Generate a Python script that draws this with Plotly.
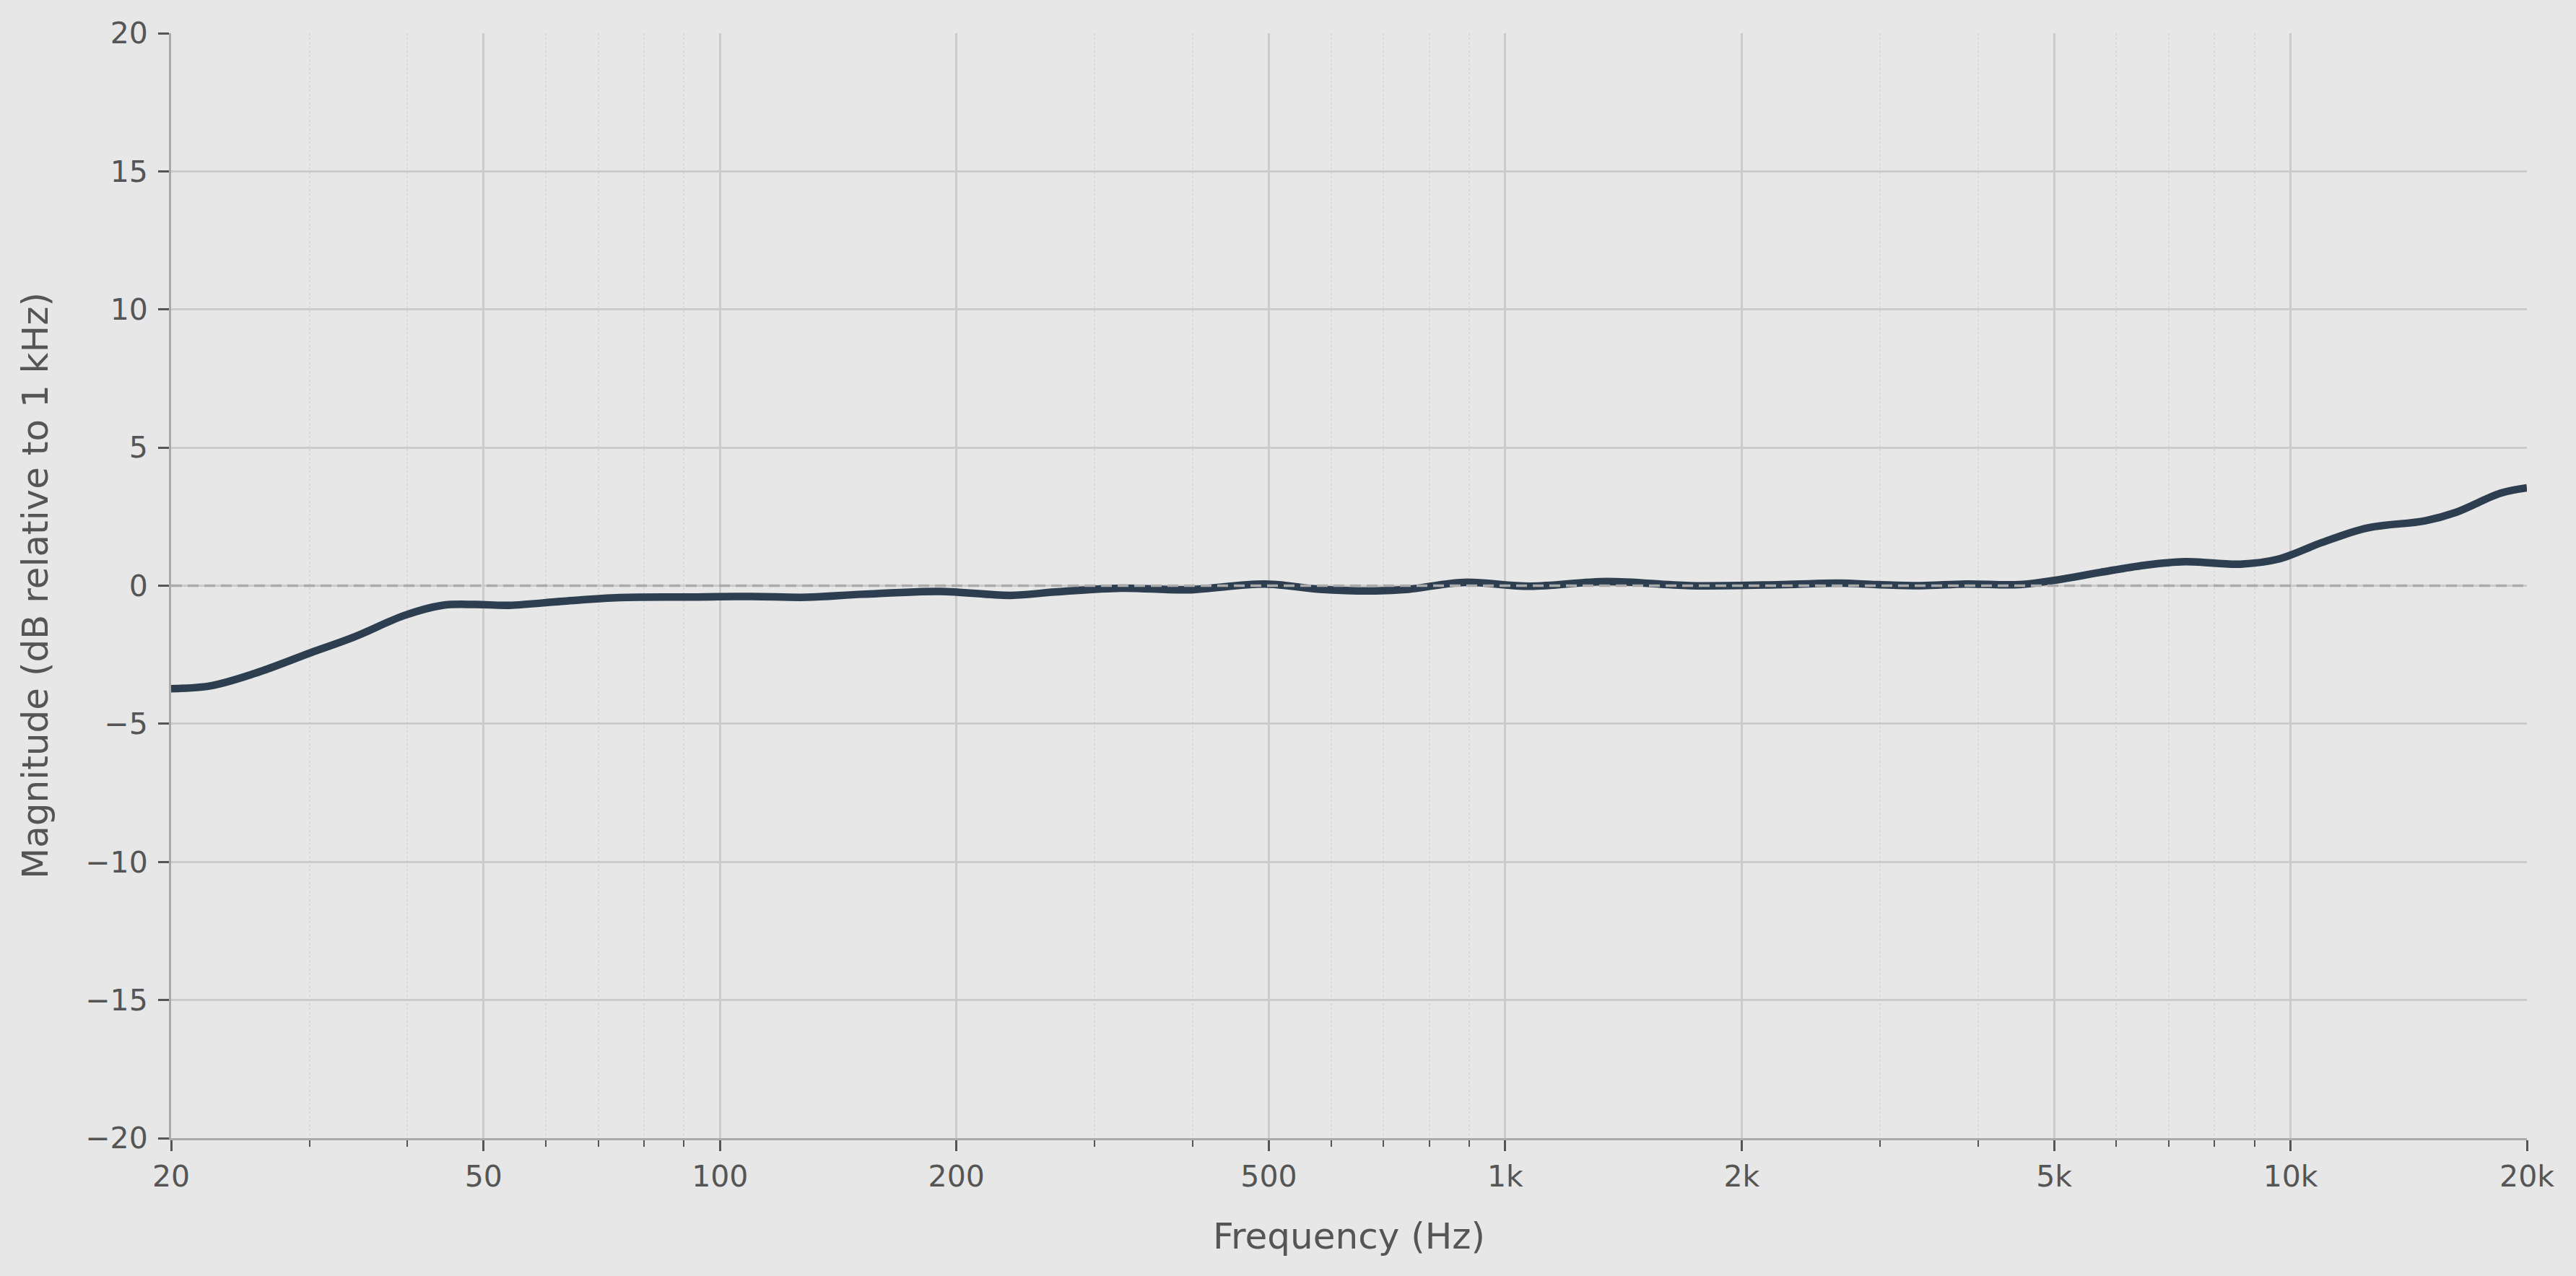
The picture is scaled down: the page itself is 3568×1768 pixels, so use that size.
import plotly.graph_objects as go

# ---- data ----
freq_hz = [20, 22.5, 25.6, 30.1, 34.2, 39.6, 44.3, 48.9, 53.9, 63.3, 74.5, 93.4,
           109.9, 129, 151.8, 190.5, 234.5, 266.8, 324, 393.6, 494, 580.6, 682.6,
           753, 885, 1075, 1348, 1719, 2264, 2662, 2974, 3386, 3861, 4519, 5020,
           5720, 6514, 7331, 8627, 9643, 10985, 12520, 14840, 16260, 18520, 20000]
magnitude_db = [-3.73, -3.62, -3.17, -2.43, -1.86, -1.08, -0.71, -0.68, -0.71, -0.56,
                -0.43, -0.41, -0.39, -0.42, -0.31, -0.21, -0.35, -0.23, -0.09, -0.15,
                0.06, -0.13, -0.19, -0.13, 0.12, -0.02, 0.15, 0.0, 0.04, 0.09, 0.04,
                0.0, 0.06, 0.04, 0.2, 0.48, 0.74, 0.87, 0.78, 0.96, 1.57, 2.09, 2.35,
                2.66, 3.35, 3.54]

x_tickvals = [20, 50, 100, 200, 500, 1000, 2000, 5000, 10000, 20000]
x_ticktext = ["20", "50", "100", "200", "500", "1k", "2k", "5k", "10k", "20k"]
x_minorvals = [30, 40, 60, 70, 80, 90, 300, 400, 600, 700, 800, 900,
               3000, 4000, 6000, 7000, 8000, 9000]
y_tickvals = [-20, -15, -10, -5, 0, 5, 10, 15, 20]
y_ticktext = ["\u221220", "\u221215", "\u221210", "\u22125", "0", "5", "10", "15", "20"]
reference_db = 0

FONT = "DejaVu Sans"
TXT = "#555555"
BG = "#e7e7e7"

fig = go.Figure()
fig.add_trace(go.Scatter(
    x=freq_hz, y=magnitude_db, mode="lines",
    line=dict(color="#2c3e50", width=10.5, shape="spline", smoothing=1.0),
    showlegend=False, hoverinfo="x+y",
))

fig.add_shape(type="line", xref="paper", yref="y", x0=0, x1=1,
              y0=reference_db, y1=reference_db,
              line=dict(color="#aaaaaa", width=3.5, dash="15px,8px"), layer="above")

fig.update_layout(
    width=3568, height=1768,
    margin=dict(l=237, r=68, t=46, b=191),
    paper_bgcolor=BG, plot_bgcolor=BG,
    font=dict(family=FONT, color=TXT, size=41),
    showlegend=False,
)

fig.update_xaxes(
    type="log", range=[1.30103, 4.30103],
    tickmode="array", tickvals=x_tickvals, ticktext=x_ticktext,
    ticks="outside", ticklen=15, tickwidth=3, tickcolor=TXT,
    tickfont=dict(family=FONT, size=41, color=TXT),
    showgrid=True, gridcolor="#cbcbcb", gridwidth=2.5,
    showline=True, linecolor="#aaaaaa", linewidth=3, mirror=False,
    zeroline=False,
    minor=dict(tickmode="array", tickvals=x_minorvals, ticks="outside",
               ticklen=9, tickwidth=2, tickcolor=TXT,
               showgrid=True, gridcolor="#d9d9d9", gridwidth=2, griddash="dot"),
    title=dict(text="Frequency (Hz)", font=dict(family=FONT, size=50, color=TXT),
               standoff=42),
)

fig.update_yaxes(
    range=[-20, 20],
    tickmode="array", tickvals=y_tickvals, ticktext=y_ticktext,
    ticks="outside", ticklen=15, tickwidth=3, tickcolor=TXT,
    tickfont=dict(family=FONT, size=41, color=TXT),
    ticklabelstandoff=6,
    showgrid=True, gridcolor="#cbcbcb", gridwidth=2.5,
    showline=True, linecolor="#aaaaaa", linewidth=3, mirror=False,
    zeroline=False,
    title=dict(text="Magnitude (dB relative to 1 kHz)",
               font=dict(family=FONT, size=50, color=TXT), standoff=36),
)

fig.write_html(
    "out.html",
    config={"displayModeBar": False},
    post_script="document.body.style.margin='0';document.body.style.background='%s';" % BG,
)
